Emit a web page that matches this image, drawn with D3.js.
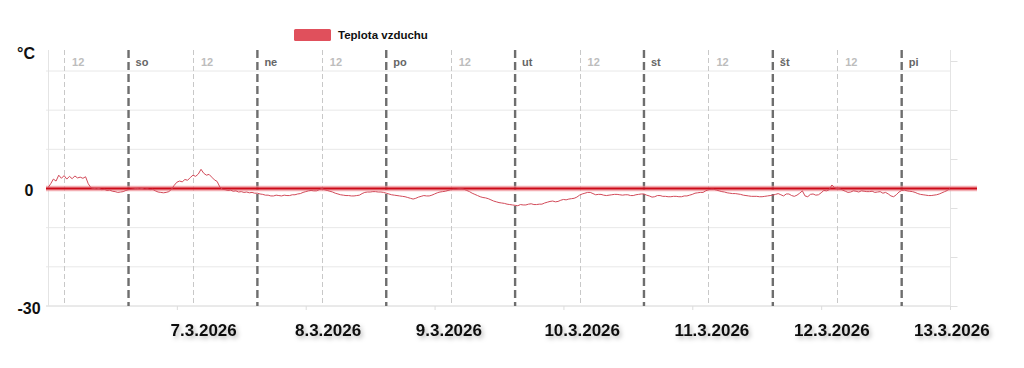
<!DOCTYPE html>
<html>
<head>
<meta charset="utf-8">
<script src="https://cdn.jsdelivr.net/npm/d3@7"></script>
<style>
  html, body { margin: 0; padding: 0; background: #fff; }
  svg { display: block; font-family: "Liberation Sans", Arial, sans-serif; }
</style>
</head>
<body>
<svg id="chart" width="1024" height="368"></svg>
<script>
// ---- data ----
const seriesName = "Teplota vzduchu";
const startTime = "2026-03-06T09:00:00";
const endTime = "2026-03-13T09:00:00";
const stepMinutes = 30;
const dayNames = ["so", "ne", "po", "ut", "st", "št", "pi"];
const dayStarts = ["2026-03-07", "2026-03-08", "2026-03-09", "2026-03-10", "2026-03-11", "2026-03-12", "2026-03-13"];
const noonDays = ["2026-03-06", "2026-03-07", "2026-03-08", "2026-03-09", "2026-03-10", "2026-03-11", "2026-03-12"];
const noonLabel = "12";
const dateLabels = ["7.3.2026", "8.3.2026", "9.3.2026", "10.3.2026", "11.3.2026", "12.3.2026", "13.3.2026"];
const dateLabelTimes = ["2026-03-07T14:00", "2026-03-08T13:10", "2026-03-09T11:40", "2026-03-10T12:30", "2026-03-11T12:40", "2026-03-12T11:00", "2026-03-13T09:20"];
const yTickValues = [-30, -20, -10, 0, 10, 20, 30];
const yLabels = [{ v: 0, t: "0" }, { v: -30, t: "-30" }];
const unitLabel = "°C";
const thresholdValue = 0;
// half-hourly temperature (°C), from 6.3.2026 09:00 to 13.3.2026 09:00
const temps6 = [0.2, 1.2, 2.4, 1.9, 3.4, 2.6, 3.3, 2.4, 3.1, 2.5, 3.2, 2.7, 2.9, 2.6, 3.0, 1.2, 0.2, 0.0, -0.1, 0.0, -0.3, -0.2, -0.5, -0.4, -0.7, -0.8, -1.0, -0.9, -0.8, -0.5];
const temps7 = [-0.3, -0.2, -0.1, 0.0, 0.1, 0.0, -0.2, -0.1, -0.3, -0.2, -0.6, -0.9, -1.0, -1.1, -1.0, -0.8,
  -0.2, 0.8, 1.6, 1.9, 1.7, 2.3, 2.1, 2.8, 3.4, 3.1, 3.7, 4.9, 3.9, 3.4, 3.6, 2.9,
  2.2, 1.8, 0.4, -0.2, -0.3, -0.5, -0.4, -0.7, -0.6, -0.9, -0.8, -1.0, -0.9, -1.1, -1.0, -1.2];
const temps8 = [-1.2, -1.4, -1.5, -1.7, -1.7, -1.9, -1.9, -1.7, -1.8, -1.9, -1.7, -1.8, -1.8, -1.6, -1.6, -1.4,
  -1.3, -1.0, -0.8, -0.6, -0.5, -0.6, -0.6, -0.3, 0.0, -0.3, -0.5, -0.7, -0.9, -1.2, -1.4, -1.6,
  -1.7, -1.8, -1.8, -1.9, -1.9, -1.8, -1.7, -1.3, -1.0, -0.9, -0.9, -0.8, -0.8, -0.9, -0.9, -1.0];
const temps9 = [-1.2, -1.4, -1.6, -1.7, -1.8, -1.9, -2.0, -2.1, -2.3, -2.5, -2.7, -2.5, -2.2, -2.0, -1.8, -1.9,
  -1.9, -1.7, -1.4, -1.1, -0.9, -0.8, -0.7, -0.5, -0.3, -0.2, -0.2, -0.1, -0.1, -0.2, -0.5, -0.8,
  -1.2, -1.5, -1.8, -2.1, -2.3, -2.4, -2.6, -2.9, -3.2, -3.4, -3.6, -3.7, -3.8, -4.0, -4.1, -4.2];
const temps10 = [-4.3, -4.4, -4.1, -4.2, -4.2, -4.0, -3.9, -4.1, -4.1, -4.0, -4.0, -3.7, -3.5, -3.3, -3.2, -3.4,
  -3.3, -3.0, -2.8, -2.9, -2.7, -2.6, -2.5, -2.2, -1.7, -1.4, -1.2, -1.0, -1.0, -1.3, -1.6, -1.5,
  -1.5, -1.7, -1.8, -1.7, -1.6, -1.5, -1.5, -1.6, -1.7, -1.6, -1.6, -1.8, -1.8, -1.6, -1.5, -1.4];
const temps11 = [-1.4, -1.7, -1.9, -2.2, -2.1, -1.8, -1.8, -2.0, -2.0, -2.1, -2.1, -2.0, -2.0, -2.1, -2.1, -1.9,
  -1.9, -1.7, -1.5, -1.2, -1.1, -1.0, -1.0, -0.6, -0.3, -0.2, -0.2, -0.4, -0.6, -0.8, -0.9, -1.1,
  -1.2, -1.3, -1.3, -1.4, -1.5, -1.7, -1.8, -1.9, -2.0, -2.0, -2.0, -2.1, -2.1, -2.0, -1.9, -1.8];
const temps12 = [-1.7, -1.5, -1.3, -1.6, -1.9, -1.4, -1.4, -1.8, -2.0, -1.7, -1.2, -0.6, -1.9, -2.1, -1.5, -1.4,
  -1.7, -1.6, -1.1, -0.5, -0.6, -0.3, 0.9, 0.2, 0.0, -0.1, -0.4, -0.7, -1.0, -0.9, -0.6, -0.7,
  -0.9, -0.6, -0.7, -0.8, -0.8, -0.7, -1.0, -0.9, -0.8, -1.2, -1.0, -1.4, -1.9, -2.1, -1.6, -0.9];
const temps13 = [-0.5, -0.4, -0.6, -0.7, -0.8, -1.0, -1.3, -1.5, -1.6, -1.7, -1.8, -1.8, -1.7, -1.6, -1.4, -1.1, -0.8, -0.5, 0.0];

// ---- layout ----
const svg = d3.select("#chart");
const L = 48, R = 950, T = 50, B = 306;
const t0 = new Date(startTime), t1 = new Date(endTime);
const x = d3.scaleTime().domain([t0, t1]).range([L, R]);
const y = d3.scaleLinear().domain([-30, 30]).range([B, 71]);
const yRight = d3.scaleLinear().domain([0, 5]).range([B, 61]);

const defs = svg.append("defs");
const sh = defs.append("filter").attr("id", "txtShadow").attr("x", "-15%").attr("y", "-40%").attr("width", "140%").attr("height", "200%");
sh.append("feDropShadow").attr("dx", 2).attr("dy", 2.5).attr("stdDeviation", 2).attr("flood-color", "#000").attr("flood-opacity", 0.28);
const lsh = defs.append("filter").attr("id", "lineShadow").attr("x", "-5%").attr("y", "-300%").attr("width", "110%").attr("height", "700%");
lsh.append("feGaussianBlur").attr("stdDeviation", 1.2);

// horizontal grid
svg.append("g").selectAll("line").data(yTickValues).join("line")
  .attr("x1", L - 2).attr("x2", R)
  .attr("y1", d => y(d)).attr("y2", d => y(d))
  .attr("stroke", d => d === -30 ? "#d4d4d4" : "#e8e8e8").attr("stroke-width", 1);

// frame verticals
svg.append("line").attr("x1", L + 0.5).attr("x2", L + 0.5).attr("y1", T).attr("y2", B).attr("stroke", "#e4e4e4");
svg.append("line").attr("x1", R + 0.5).attr("x2", R + 0.5).attr("y1", T).attr("y2", B).attr("stroke", "#e4e4e4");

// right axis ticks (no labels)
const ra = svg.append("g").attr("transform", `translate(${R + 0.5},0)`)
  .call(d3.axisRight(yRight).ticks(5).tickSize(7).tickFormat(""));
ra.select(".domain").remove();
ra.selectAll("line").attr("stroke", "#e0e0e0");

// bottom axis ticks (no labels)
const tickDates = dateLabels.map((_, i) => d3.timeDay.offset(t0, i + 1));
const ba = svg.append("g").attr("transform", `translate(0,${B})`)
  .call(d3.axisBottom(x).tickValues(tickDates).tickSize(4).tickFormat(""));
ba.select(".domain").remove();
ba.selectAll("line").attr("stroke", "#dcdcdc");

// noon lines
const noons = noonDays.map(d => new Date(d + "T12:00:00"));
svg.append("g").selectAll("line").data(noons).join("line")
  .attr("x1", d => Math.round(x(d)) + 0.5).attr("x2", d => Math.round(x(d)) + 0.5)
  .attr("y1", T).attr("y2", B)
  .attr("stroke", "#c8c8c8").attr("stroke-width", 1).attr("stroke-dasharray", "5,3");
svg.append("g").selectAll("text").data(noons).join("text")
  .attr("x", d => x(d) + 8).attr("y", 66)
  .attr("fill", "#bdbdbd").attr("font-size", 11).attr("font-weight", "bold")
  .text(noonLabel);

// day separators
const days = dayStarts.map(d => new Date(d + "T00:00:00"));
svg.append("g").selectAll("line").data(days).join("line")
  .attr("x1", d => x(d)).attr("x2", d => x(d))
  .attr("y1", T).attr("y2", B)
  .attr("stroke", "#6e6e6e").attr("stroke-width", 2.4).attr("stroke-dasharray", "8,4");
svg.append("g").selectAll("text").data(days).join("text")
  .attr("x", d => x(d) + 7).attr("y", 66)
  .attr("fill", "#666").attr("font-size", 11).attr("font-weight", "bold")
  .text((d, i) => dayNames[i]);

// threshold line (0 °C)
const thX1 = L - 2, thX2 = 977;
svg.append("line").attr("x1", thX1).attr("x2", thX2)
  .attr("y1", y(thresholdValue) + 2.5).attr("y2", y(thresholdValue) + 2.5)
  .attr("stroke", "#777").attr("stroke-opacity", 0.45).attr("stroke-width", 3).attr("filter", "url(#lineShadow)");
svg.append("line").attr("x1", thX1).attr("x2", thX2)
  .attr("y1", y(thresholdValue)).attr("y2", y(thresholdValue))
  .attr("stroke", "#ee8f95").attr("stroke-opacity", 0.7).attr("stroke-width", 5.5);
svg.append("line").attr("x1", thX1).attr("x2", thX2)
  .attr("y1", y(thresholdValue)).attr("y2", y(thresholdValue))
  .attr("stroke", "#cc0a18").attr("stroke-width", 2.2);

// temperature series
const temps = [].concat(temps6, temps7, temps8, temps9, temps10, temps11, temps12, temps13);
const data = temps.map((v, i) => ({ t: d3.timeMinute.offset(t0, i * stepMinutes), v }));
svg.append("path").datum(data)
  .attr("fill", "none").attr("stroke", "#d24b5a").attr("stroke-width", 1).attr("stroke-linejoin", "round")
  .attr("d", d3.line().x(d => x(d.t)).y(d => y(d.v)));

// y labels
svg.append("g").selectAll("text").data(yLabels).join("text")
  .attr("x", 29).attr("y", d => y(d.v) + 7.5)
  .attr("text-anchor", "middle").attr("font-size", 16).attr("font-weight", "bold").attr("fill", "#111")
  .text(d => d.t);
svg.append("text").attr("x", 26).attr("y", 59).attr("text-anchor", "middle")
  .attr("font-size", 16).attr("font-weight", "bold").attr("fill", "#111").text(unitLabel);

// date labels
svg.append("g").selectAll("text").data(dateLabels).join("text")
  .attr("x", (d, i) => x(new Date(dateLabelTimes[i])))
  .attr("y", 336).attr("text-anchor", "middle")
  .attr("font-size", 17).attr("font-weight", "bold").attr("fill", "#111")
  .attr("filter", "url(#txtShadow)")
  .text(d => d);

// legend
const lg = svg.append("g");
lg.append("rect").attr("x", 294).attr("y", 29).attr("width", 37).attr("height", 12).attr("rx", 1.5)
  .attr("fill", "#e0505c");
lg.append("text").attr("x", 338).attr("y", 38.5).attr("font-size", 11.5).attr("font-weight", "bold").attr("fill", "#111")
  .text(seriesName);
</script>
</body>
</html>
